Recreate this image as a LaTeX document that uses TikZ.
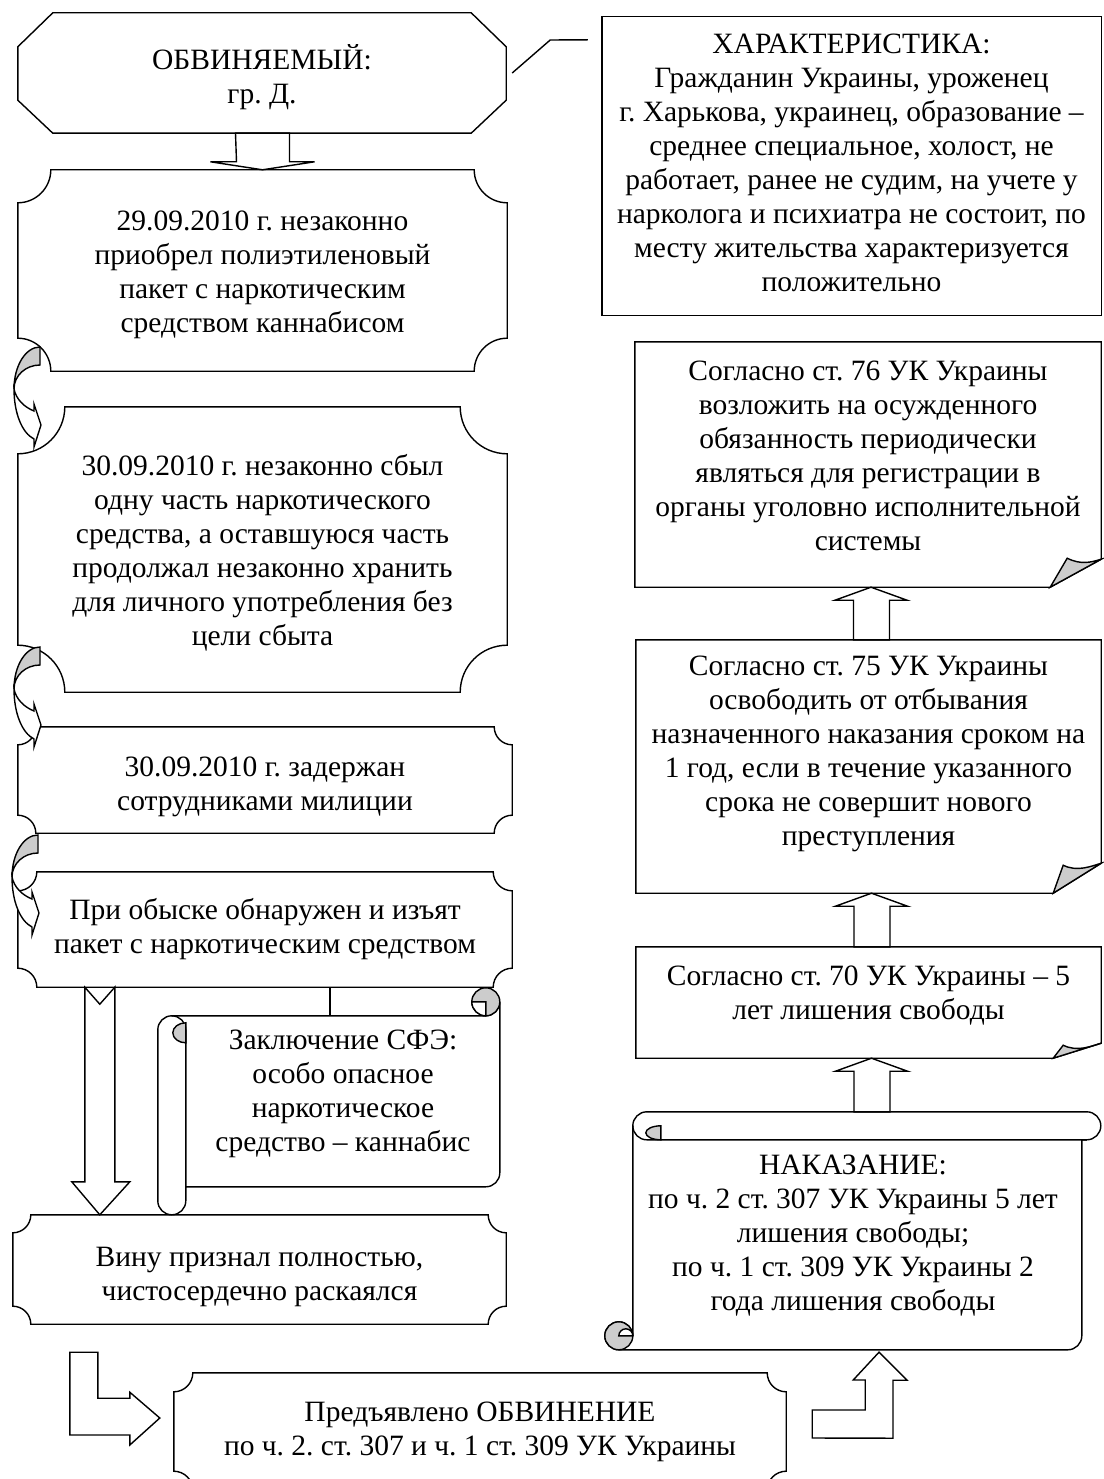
\documentclass[tikz,border=0pt]{standalone}
\usepackage{fontspec}
\setmainfont{Liberation Serif}
\usetikzlibrary{calc}
\frenchspacing

\tikzset{
	txt/.style={inner sep=0pt, font=\fontsize{29.5}{34}\selectfont},
	frame/.style={draw=black, line width=1.4pt},
	curl/.style={draw=black, line width=1.4pt, fill=black!20},
	blockarrow/.style={draw=black, line width=1.4pt, fill=white},
	callout/.style={draw=black, line width=1.4pt},
	curvedarrow/.pic={
		\draw[curl] (26,0) arc[start angle=270, end angle=180, x radius=26, y radius=42]
			arc[start angle=180, end angle=270, x radius=26, y radius=24] -- cycle;
		\draw[blockarrow] (0,42) .. controls (0,66) and (8,86) .. (20,92) -- (20,100) -- (27,78) -- (20,57) -- (20,64) .. controls (10,60) and (2,52) .. (0,42) -- cycle;
	}
}

% box with cut-in corners
\newcommand{\plaqueframe}[2]{%
	\draw[frame] ($(#1.north west)+(#2,0)$) -- ($(#1.north east)+(-#2,0)$)
		arc[start angle=180, end angle=90, radius=#2]
		-- ($(#1.south east)+(0,-#2)$) arc[start angle=270, end angle=180, radius=#2]
		-- ($(#1.south west)+(#2,0)$) arc[start angle=0, end angle=-90, radius=#2]
		-- ($(#1.north west)+(0,#2)$) arc[start angle=90, end angle=0, radius=#2] -- cycle;}
% box with folded corner
\newcommand{\foldframe}[5]{%
	\draw[frame] (#1.north west) -- (#1.north east) -- ($(#1.south east)+(0,-#5)$) -- ($(#1.south east)+(-#2,0)$) -- (#1.south west) -- cycle;
	\draw[curl] ($(#1.south east)+(-#2,0)$) -- ($(#1.south east)+(-#3,-#4)$) .. controls +(14,7) and +(-10,3) .. ($(#1.south east)+(0,-#5)$) -- cycle;}
% wide arrow pointing up
\newcommand{\blockup}[2]{%
	\coordinate (shaftL) at ($(#2.south)+(-14.5,13)$);
	\coordinate (shaftR) at ($(#2.south)+(21.5,13)$);
	\draw[blockarrow] ($(#2.south)+(3,0)$) -- ++(36,13) -- (shaftR) -- (shaftR |- #1.north)
		-- (shaftL |- #1.north) -- (shaftL) -- ++(-18.5,0) -- cycle;}

\begin{document}
\begin{tikzpicture}[x=1pt, y=-1pt]
	\useasboundingbox (0,0) rectangle (1103,1479);

	% left column
	\node[txt, minimum width=488pt, minimum height=120pt] (obv) at (262,73) {\begin{tabular}{c}\rule{0pt}{36.8pt}ОБВИНЯЕМЫЙ:\\гр. Д.\end{tabular}};
	\node[txt, minimum width=489pt, minimum height=201pt] (n2) at (262.5,270.5) {\begin{tabular}{c}\rule{0pt}{31.8pt}29.09.2010 г. незаконно\\приобрел полиэтиленовый\\пакет с наркотическим\\средством каннабисом\end{tabular}};
	\node[txt, minimum width=489pt, minimum height=285pt] (n3) at (262.5,549.5) {\begin{tabular}{c}\rule{0pt}{31.8pt}30.09.2010 г. незаконно сбыл\\одну часть наркотического\\средства, а оставшуюся часть\\продолжал незаконно хранить\\для личного употребления без\\цели сбыта\end{tabular}};
	\node[txt, minimum width=494pt, minimum height=106pt] (n4) at (265,780) {\begin{tabular}{c}\rule{0pt}{36.8pt}30.09.2010 г. задержан\\сотрудниками милиции\end{tabular}};
	\node[txt, minimum width=494pt, minimum height=115pt] (n5) at (265,929.5) {\begin{tabular}{c}При обыске обнаружен и изъят\\пакет с наркотическим средством\end{tabular}};
	\node[txt, minimum width=314pt, minimum height=171pt] (sfe) at (343,1101.5) {\begin{tabular}{c}Заключение СФЭ:\\особо опасное\\наркотическое\\средство – каннабис\\[16pt]\end{tabular}};
	\node[txt, minimum width=493pt, minimum height=109pt] (n6) at (259.5,1269.5) {\begin{tabular}{c}\rule{0pt}{37.8pt}Вину признал полностью,\\чистосердечно раскаялся\end{tabular}};
	\node[txt, minimum width=612pt, minimum height=117pt] (n7) at (480,1431.5) {\begin{tabular}{c}Предъявлено ОБВИНЕНИЕ\\по ч. 2. ст. 307 и ч. 1 ст. 309 УК Украины\end{tabular}};

	% right column
	\node[txt, minimum width=499pt, minimum height=298pt] (charac) at (851.5,166) {\begin{tabular}{c}ХАРАКТЕРИСТИКА:\\Гражданин Украины, уроженец\\г. Харькова, украинец, образование –\\среднее специальное, холост, не\\работает, ранее не судим, на учете у\\нарколога и психиатра не состоит, по\\месту жительства характеризуется\\положительно\end{tabular}};
	\node[txt, minimum width=466pt, minimum height=245pt] (art76) at (868,464.5) {\begin{tabular}{c}Согласно ст. 76 УК Украины\\возложить на осужденного\\обязанность периодически\\являться для регистрации в\\органы уголовно исполнительной\\системы\\[12pt]\end{tabular}};
	\node[txt, minimum width=465pt, minimum height=253pt] (art75) at (868.5,766.5) {\begin{tabular}{c}Согласно ст. 75 УК Украины\\освободить от отбывания\\назначенного наказания сроком на\\1 год, если в течение указанного\\срока не совершит нового\\преступления\\[26pt]\end{tabular}};
	\node[txt, minimum width=465pt, minimum height=111pt] (art70) at (868.5,1002.5) {\begin{tabular}{c}Согласно ст. 70 УК Украины – 5\\лет лишения свободы\\[14pt]\end{tabular}};
	\node[txt, minimum width=496pt, minimum height=238pt] (punish) at (853,1231) {\begin{tabular}{c}\rule{0pt}{33.8pt}НАКАЗАНИЕ:\\по ч. 2 ст. 307 УК Украины 5 лет\\лишения свободы;\\по ч. 1 ст. 309 УК Украины 2\\года лишения свободы\end{tabular}};

	% frames
	\draw[frame] ($(obv.north west)+(35,0)$) -- ($(obv.north east)+(-35,0)$) -- ($(obv.north east)+(0,34)$) -- ($(obv.south east)+(0,-33)$)
		-- ($(obv.south east)+(-35,0)$) -- ($(obv.south west)+(35,0)$) -- ($(obv.south west)+(0,-33)$) -- ($(obv.north west)+(0,34)$) -- cycle;
	\plaqueframe{n2}{33}
	\plaqueframe{n3}{47}
	\plaqueframe{n4}{18}
	\plaqueframe{n5}{19}
	\plaqueframe{n6}{18}
	\plaqueframe{n7}{19}
	\draw[frame] (charac.north west) rectangle (charac.south east);
	\foldframe{art76}{51}{34}{29}{28}
	\foldframe{art75}{48}{38}{28}{30}
	\foldframe{art70}{48}{38}{13}{15}

	% scroll of the expert report
	\begin{scope}[shift={($(sfe.north west)+(-28,-28)$)}]
		\draw[frame] (0,42) arc[start angle=180, end angle=270, radius=14] -- (328,28) arc[start angle=90, end angle=0, radius=14]
			-- (342,185) arc[start angle=0, end angle=90, radius=14] -- (28,199) -- (28,213) arc[start angle=0, end angle=180, radius=14] -- cycle;
		\draw[curl] (328,14) circle[radius=14];
		\draw[frame, fill=white] (314,14) -- (328,14) -- (328,28) arc[start angle=90, end angle=180, radius=14] -- cycle;
		\draw[frame] (14,28) arc[start angle=270, end angle=360, radius=14] -- (28,199);
		\draw[curl] (28,35) arc[start angle=270, end angle=90, x radius=13, y radius=10] -- cycle;
	\end{scope}

	% scroll of the punishment
	\begin{scope}[shift={(punish.north west)}]
		\draw[frame] (42,0) -- (482,0) arc[start angle=270, end angle=450, radius=14] -- (477,28) -- (477,224) arc[start angle=0, end angle=90, radius=14]
			-- (14,238) arc[start angle=90, end angle=360, radius=14] -- (28,14) arc[start angle=180, end angle=270, radius=14] -- cycle;
		\draw[frame] (28,14) arc[start angle=180, end angle=90, radius=14] -- (482,28);
		\draw[curl] (56,14) arc[start angle=270, end angle=90, x radius=15, y radius=7] -- cycle;
		\draw[curl] (14,224) circle[radius=14];
		\draw[frame, fill=white] (28,224) arc[start angle=0, end angle=-180, radius=7] -- cycle;
	\end{scope}

	% arrows
	\draw[callout] ($(obv.east)+(6,0)$) -- ++(38,-33) -- ($(charac.north west)+(-14,23)$);
	\draw[blockarrow] (n2.north) -- ++(52,-8) -- ++(-25,0) -- ($(obv.south)+(27.5,0)$) -- ($(obv.south)+(-26.5,0)$) -- ($(n2.north)+(-26,-8)$) -- ++(-26,0) -- cycle;
	\pic at (14,347) {curvedarrow};
	\pic at (14,647) {curvedarrow};
	\pic at (12,835) {curvedarrow};
	\coordinate (tailA) at ($(n5.south west)+(67,0)$);
	\draw[blockarrow] (tailA) -- ++(15,17) -- ++(15,-17) -- ($(n6.north west)+(102,-33)$) -- ++(15,0) -- ($(n6.north west)+(87,0)$) -- ++(-28,-33) -- ++(13,0) -- cycle;
	\coordinate (sfetop) at ($(sfe.north)+(-13,0)$);
	\draw[callout] (sfetop) -- (sfetop |- n5.south);
	\draw[blockarrow] ($(n6.south west)+(57,28)$) -- ++(28,0) -- ++(0,46) -- ++(32,0) -- ++(0,-6) -- ($(n7.west)+(-14,-13.5)$) -- ++(-30,27) -- ++(0,-10) -- ++(-60,0) -- cycle;
	\draw[blockarrow] ($(n7.east)+(26,6.5)$) -- ++(0,-28) -- ++(53,0) -- ++(0,-30) -- ++(-12,0) -- ($(punish.south)+(26,2)$) -- ++(28,28) -- ++(-14,0) -- ++(0,58) -- cycle;
	\blockup{art75}{art76}
	\blockup{art70}{art75}
	\blockup{punish}{art70}
\end{tikzpicture}
\end{document}
